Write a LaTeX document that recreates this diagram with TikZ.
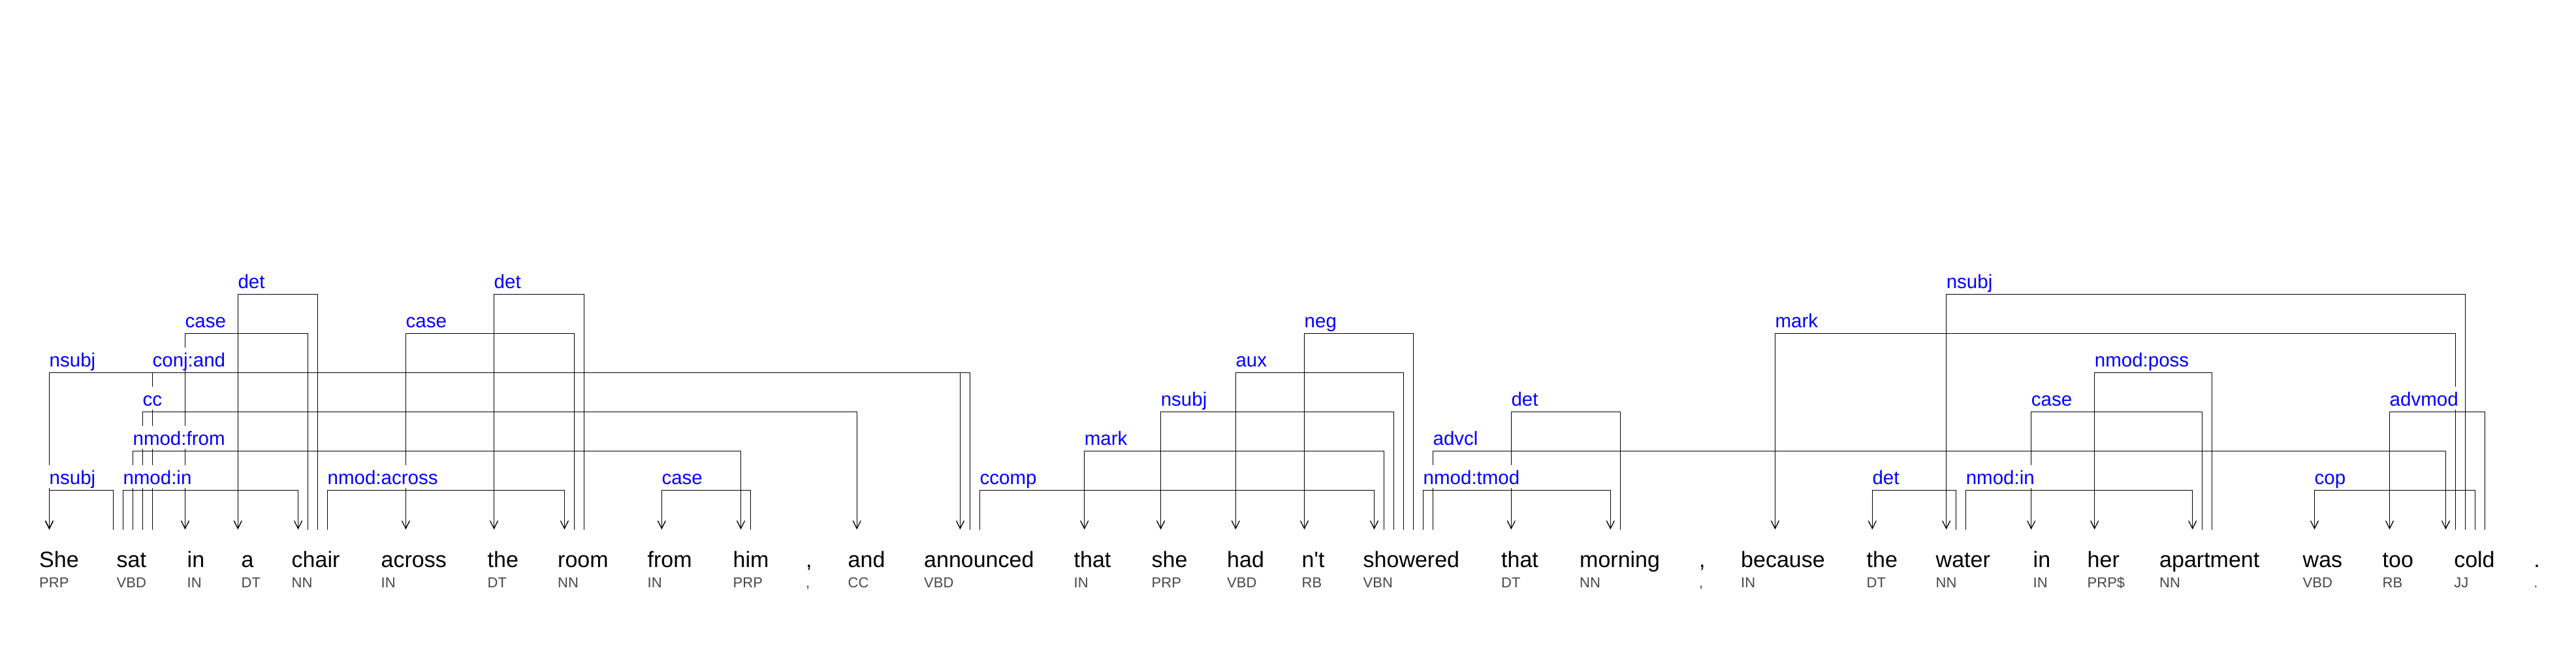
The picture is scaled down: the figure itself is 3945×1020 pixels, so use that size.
\documentclass[tikz,border=0pt]{standalone}
\usepackage{fontspec}
\newfontfamily\depfont{Liberation Sans}
\usepackage{tikz}
\usetikzlibrary{arrows.meta}
\tikzset{word/.style={anchor=base west, inner sep=0pt, font=\depfont\fontsize{34}{40}\selectfont}}
\tikzset{tag/.style={anchor=base west, inner sep=0pt, text=black!72, font=\depfont\fontsize{22}{26}\selectfont}}
\tikzset{rel/.style={anchor=base west, fill=white, inner xsep=2pt, inner ysep=0pt, text height=30pt, text depth=5pt, text=blue, font=\depfont\fontsize{29.5}{34}\selectfont}}
\tikzset{dep/.style={line width=1.3pt, -{Straight Barb[length=12pt,width=12pt]}}}

\begin{document}
\begin{tikzpicture}[x=1pt,y=-1pt]
        \useasboundingbox (0,0) rectangle (3945,1020);
        \fill[white] (0,0) rectangle (3945,1020);
        % words and their tags
        \node[word] (she1) at (60,868.3) {She};
        \node[tag] (she1-t) at (60,899.3) {PRP};
        \node[word] (sat) at (178.5,868.3) {sat};
        \node[tag] (sat-t) at (178.5,899.3) {VBD};
        \node[word] (in1) at (286.5,868.3) {in};
        \node[tag] (in1-t) at (286.5,899.3) {IN};
        \node[word] (a) at (369.5,868.3) {a};
        \node[tag] (a-t) at (369.5,899.3) {DT};
        \node[word] (chair) at (446.5,868.3) {chair};
        \node[tag] (chair-t) at (446.5,899.3) {NN};
        \node[word] (across) at (583.5,868.3) {across};
        \node[tag] (across-t) at (583.5,899.3) {IN};
        \node[word] (the1) at (746.5,868.3) {the};
        \node[tag] (the1-t) at (746.5,899.3) {DT};
        \node[word] (room) at (854,868.3) {room};
        \node[tag] (room-t) at (854,899.3) {NN};
        \node[word] (from) at (991.5,868.3) {from};
        \node[tag] (from-t) at (991.5,899.3) {IN};
        \node[word] (him) at (1122.5,868.3) {him};
        \node[tag] (him-t) at (1122.5,899.3) {PRP};
        \node[word] (comma1) at (1234,868.3) {,};
        \node[tag] (comma1-t) at (1234,899.3) {,};
        \node[word] (and) at (1298.5,868.3) {and};
        \node[tag] (and-t) at (1298.5,899.3) {CC};
        \node[word] (announced) at (1415,868.3) {announced};
        \node[tag] (announced-t) at (1415,899.3) {VBD};
        \node[word] (that1) at (1644.5,868.3) {that};
        \node[tag] (that1-t) at (1644.5,899.3) {IN};
        \node[word] (she2) at (1763.5,868.3) {she};
        \node[tag] (she2-t) at (1763.5,899.3) {PRP};
        \node[word] (had) at (1879,868.3) {had};
        \node[tag] (had-t) at (1879,899.3) {VBD};
        \node[word] (nt) at (1993.5,868.3) {n\char"27 t};
        \node[tag] (nt-t) at (1993.5,899.3) {RB};
        \node[word] (showered) at (2087.5,868.3) {showered};
        \node[tag] (showered-t) at (2087.5,899.3) {VBN};
        \node[word] (that2) at (2299,868.3) {that};
        \node[tag] (that2-t) at (2299,899.3) {DT};
        \node[word] (morning) at (2419,868.3) {morning};
        \node[tag] (morning-t) at (2419,899.3) {NN};
        \node[word] (comma2) at (2602,868.3) {,};
        \node[tag] (comma2-t) at (2602,899.3) {,};
        \node[word] (because) at (2666,868.3) {because};
        \node[tag] (because-t) at (2666,899.3) {IN};
        \node[word] (the2) at (2858.5,868.3) {the};
        \node[tag] (the2-t) at (2858.5,899.3) {DT};
        \node[word] (water) at (2964.5,868.3) {water};
        \node[tag] (water-t) at (2964.5,899.3) {NN};
        \node[word] (in2) at (3113.5,868.3) {in};
        \node[tag] (in2-t) at (3113.5,899.3) {IN};
        \node[word] (her) at (3196.5,868.3) {her};
        \node[tag] (her-t) at (3196.5,899.3) {PRP\$};
        \node[word] (apartment) at (3307,868.3) {apartment};
        \node[tag] (apartment-t) at (3307,899.3) {NN};
        \node[word] (was) at (3526.5,868.3) {was};
        \node[tag] (was-t) at (3526.5,899.3) {VBD};
        \node[word] (too) at (3648.5,868.3) {too};
        \node[tag] (too-t) at (3648.5,899.3) {RB};
        \node[word] (cold) at (3758,868.3) {cold};
        \node[tag] (cold-t) at (3758,899.3) {JJ};
        \node[word] (stop) at (3880,868.3) {.};
        \node[tag] (stop-t) at (3880,899.3) {.};
        % attachment points above the words
        \coordinate (she1-1) at (75.5,810.5);
        \coordinate (sat-1) at (173.4,810.5);
        \coordinate (sat-2) at (188.3,810.5);
        \coordinate (sat-3) at (203.4,810.5);
        \coordinate (sat-4) at (218.4,810.5);
        \coordinate (sat-5) at (233.4,810.5);
        \coordinate (in1-1) at (283.5,810.5);
        \coordinate (a-1) at (364.3,810.5);
        \coordinate (chair-1) at (456.5,810.5);
        \coordinate (chair-2) at (471.5,810.5);
        \coordinate (chair-3) at (486.5,810.5);
        \coordinate (chair-4) at (501.5,810.5);
        \coordinate (across-1) at (621.4,810.5);
        \coordinate (the1-1) at (756.5,810.5);
        \coordinate (room-1) at (864.4,810.5);
        \coordinate (room-2) at (879.5,810.5);
        \coordinate (room-3) at (894.5,810.5);
        \coordinate (from-1) at (1013.3,810.5);
        \coordinate (him-1) at (1134.6,810.5);
        \coordinate (him-2) at (1149.5,810.5);
        \coordinate (and-1) at (1312.2,810.5);
        \coordinate (announced-1) at (1470.4,810.5);
        \coordinate (announced-2) at (1485.3,810.5);
        \coordinate (announced-3) at (1500.5,810.5);
        \coordinate (that1-1) at (1660.7,810.5);
        \coordinate (she2-1) at (1777.6,810.5);
        \coordinate (had-1) at (1892.3,810.5);
        \coordinate (nt-1) at (1997.5,810.5);
        \coordinate (showered-1) at (2104.5,810.5);
        \coordinate (showered-2) at (2119.4,810.5);
        \coordinate (showered-3) at (2134.5,810.5);
        \coordinate (showered-4) at (2149.5,810.5);
        \coordinate (showered-5) at (2164.4,810.5);
        \coordinate (showered-6) at (2179.5,810.5);
        \coordinate (showered-7) at (2194.4,810.5);
        \coordinate (that2-1) at (2314.3,810.5);
        \coordinate (morning-1) at (2466.3,810.5);
        \coordinate (morning-2) at (2481.5,810.5);
        \coordinate (because-1) at (2718.4,810.5);
        \coordinate (the2-1) at (2867.3,810.5);
        \coordinate (water-1) at (2980.6,810.5);
        \coordinate (water-2) at (2995.5,810.5);
        \coordinate (water-3) at (3010.6,810.5);
        \coordinate (in2-1) at (3110.7,810.5);
        \coordinate (her-1) at (3207.7,810.5);
        \coordinate (apartment-1) at (3357.6,810.5);
        \coordinate (apartment-2) at (3372.6,810.5);
        \coordinate (apartment-3) at (3387.5,810.5);
        \coordinate (was-1) at (3544.5,810.5);
        \coordinate (too-1) at (3659.5,810.5);
        \coordinate (cold-1) at (3745.5,810.5);
        \coordinate (cold-2) at (3760.5,810.5);
        \coordinate (cold-3) at (3775.4,810.5);
        \coordinate (cold-4) at (3790.4,810.5);
        \coordinate (cold-5) at (3805.4,810.5);
        % dependencies, head to dependent
        \draw[dep] (sat-1) -- ++(0,-60) -| (she1-1);
        \draw[dep] (sat-2) -- ++(0,-60) -| (chair-1);
        \draw[dep] (chair-4) -- ++(0,-60) -| (room-1);
        \draw[dep] (him-2) -- ++(0,-60) -| (from-1);
        \draw[dep] (announced-3) -- ++(0,-60) -| (showered-1);
        \draw[dep] (showered-6) -- ++(0,-60) -| (morning-1);
        \draw[dep] (water-2) -- ++(0,-60) -| (the2-1);
        \draw[dep] (water-3) -- ++(0,-60) -| (apartment-1);
        \draw[dep] (cold-4) -- ++(0,-60) -| (was-1);
        \draw[dep] (sat-3) -- ++(0,-120) -| (him-1);
        \draw[dep] (showered-2) -- ++(0,-120) -| (that1-1);
        \draw[dep] (showered-7) -- ++(0,-120) -| (cold-1);
        \draw[dep] (sat-4) -- ++(0,-180) -| (and-1);
        \draw[dep] (showered-3) -- ++(0,-180) -| (she2-1);
        \draw[dep] (morning-2) -- ++(0,-180) -| (that2-1);
        \draw[dep] (apartment-2) -- ++(0,-180) -| (in2-1);
        \draw[dep] (cold-5) -- ++(0,-180) -| (too-1);
        \draw[dep] (announced-2) -- ++(0,-240) -| (she1-1);
        \draw[dep] (sat-5) -- ++(0,-240) -| (announced-1);
        \draw[dep] (showered-4) -- ++(0,-240) -| (had-1);
        \draw[dep] (apartment-3) -- ++(0,-240) -| (her-1);
        \draw[dep] (chair-2) -- ++(0,-300) -| (in1-1);
        \draw[dep] (room-2) -- ++(0,-300) -| (across-1);
        \draw[dep] (showered-5) -- ++(0,-300) -| (nt-1);
        \draw[dep] (cold-2) -- ++(0,-300) -| (because-1);
        \draw[dep] (chair-3) -- ++(0,-360) -| (a-1);
        \draw[dep] (room-3) -- ++(0,-360) -| (the1-1);
        \draw[dep] (cold-3) -- ++(0,-360) -| (water-1);
        % relation labels, drawn over the lines
        \node[rel] (r1) at ([xshift=-2pt,yshift=69pt]she1-1) {nsubj};
        \node[rel] (r2) at ([xshift=-2pt,yshift=69pt]sat-2) {nmod:in};
        \node[rel] (r3) at ([xshift=-2pt,yshift=69pt]chair-4) {nmod:across};
        \node[rel] (r4) at ([xshift=-2pt,yshift=69pt]from-1) {case};
        \node[rel] (r5) at ([xshift=-2pt,yshift=69pt]announced-3) {ccomp};
        \node[rel] (r6) at ([xshift=-2pt,yshift=69pt]showered-6) {nmod:tmod};
        \node[rel] (r7) at ([xshift=-2pt,yshift=69pt]the2-1) {det};
        \node[rel] (r8) at ([xshift=-2pt,yshift=69pt]water-3) {nmod:in};
        \node[rel] (r9) at ([xshift=-2pt,yshift=69pt]was-1) {cop};
        \node[rel] (r10) at ([xshift=-2pt,yshift=129pt]sat-3) {nmod:from};
        \node[rel] (r11) at ([xshift=-2pt,yshift=129pt]that1-1) {mark};
        \node[rel] (r12) at ([xshift=-2pt,yshift=129pt]showered-7) {advcl};
        \node[rel] (r13) at ([xshift=-2pt,yshift=189pt]sat-4) {cc};
        \node[rel] (r14) at ([xshift=-2pt,yshift=189pt]she2-1) {nsubj};
        \node[rel] (r15) at ([xshift=-2pt,yshift=189pt]that2-1) {det};
        \node[rel] (r16) at ([xshift=-2pt,yshift=189pt]in2-1) {case};
        \node[rel] (r17) at ([xshift=-2pt,yshift=189pt]too-1) {advmod};
        \node[rel] (r18) at ([xshift=-2pt,yshift=249pt]she1-1) {nsubj};
        \node[rel] (r19) at ([xshift=-2pt,yshift=249pt]sat-5) {conj:and};
        \node[rel] (r20) at ([xshift=-2pt,yshift=249pt]had-1) {aux};
        \node[rel] (r21) at ([xshift=-2pt,yshift=249pt]her-1) {nmod:poss};
        \node[rel] (r22) at ([xshift=-2pt,yshift=309pt]in1-1) {case};
        \node[rel] (r23) at ([xshift=-2pt,yshift=309pt]across-1) {case};
        \node[rel] (r24) at ([xshift=-2pt,yshift=309pt]nt-1) {neg};
        \node[rel] (r25) at ([xshift=-2pt,yshift=309pt]because-1) {mark};
        \node[rel] (r26) at ([xshift=-2pt,yshift=369pt]a-1) {det};
        \node[rel] (r27) at ([xshift=-2pt,yshift=369pt]the1-1) {det};
        \node[rel] (r28) at ([xshift=-2pt,yshift=369pt]water-1) {nsubj};
    \end{tikzpicture}
\end{document}
